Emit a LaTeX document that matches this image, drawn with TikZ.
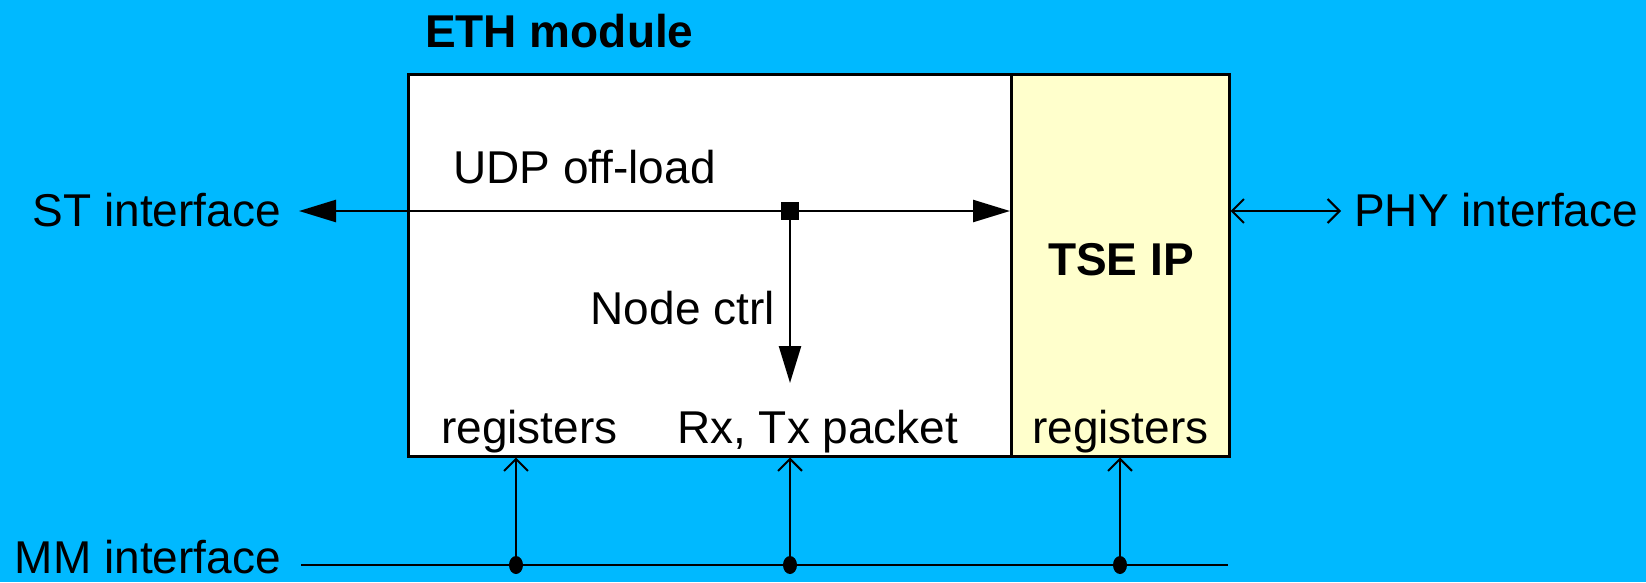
\documentclass[tikz,border=0pt]{standalone}
\usepackage{fontspec}
\setmainfont{Liberation Sans}
\usetikzlibrary{arrows.meta,shapes.geometric}
\definecolor{bgcyan}{RGB}{0,185,255}
\definecolor{tseyellow}{RGB}{255,255,204}
\tikzset{
  lbl/.style={inner sep=0pt, font=\fontsize{46}{55}\selectfont},
  blbl/.style={inner sep=0pt, font=\fontsize{46}{55}\selectfont\bfseries},
  boxx/.style={draw=black, line width=2.5pt, anchor=north west, inner sep=0pt},
  wire/.style={line width=2.5pt},
  bigtip/.style={-{Triangle[length=37pt,width=22pt]}},
  opentip/.style={-{Straight Barb[length=12pt,width=24pt,line width=2pt]}},
  dot/.style={ellipse, fill=black, inner sep=0pt, minimum width=14pt, minimum height=18pt},
}
\begin{document}
\begin{tikzpicture}[x=1pt,y=-1pt]
\fill[bgcyan] (0,0) rectangle (1646,582);
\useasboundingbox (0,0) rectangle (1646,582);
% boxes
\node[boxx, fill=white, minimum width=603pt, minimum height=382pt] (eth) at (407,73) {};
\node[boxx, fill=tseyellow, minimum width=218pt, minimum height=382pt] (tse) at (1010,73) {};
% labels
\node[blbl, anchor=base west] (ethlbl) at (425,47) {ETH module};
\node[blbl, anchor=base] (tselbl) at (1121,275) {TSE IP};
\node[lbl, anchor=base west] (udp) at (453,183) {UDP off-load};
\node[lbl, anchor=base east] (nodectrl) at (775,324) {Node ctrl};
\node[lbl, anchor=base west] (reg1) at (441,443) {registers};
\node[lbl, anchor=base west] (rxtx) at (677,443) {Rx, Tx packet};
\node[lbl, anchor=base west] (reg2) at (1032,443) {registers};
\node[lbl, anchor=base east] (st) at (281,226) {ST interface};
\node[lbl, anchor=base west] (phy) at (1354,226) {PHY interface};
\node[lbl, anchor=base east, text depth=0pt] (mm) at (281,573) {MM interface};
% coordinates
\coordinate (j) at (790,211);
\coordinate (stend) at (299,211);
\coordinate (phyend) at (1341,211);
\coordinate (ncend) at (790,383);
\coordinate (busL) at (301,565);
\coordinate (busR) at (1228,565);
% UDP line
\draw[wire, bigtip] (j) -- (stend);
\draw[wire, bigtip] (j) -- (j -| tse.west);
\draw[wire, bigtip] (j) -- (ncend);
\node[fill=black, minimum size=18pt, inner sep=0pt] (jsq) at (j) {};
% PHY
\draw[line width=2pt, {Straight Barb[length=12pt,width=24pt,line width=2pt]}-{Straight Barb[length=12pt,width=24pt,line width=2pt]}] (tse.east |- j) -- (phyend);
% MM bus
\draw[wire] (busL) -- (busR);
\node[dot] (d1) at (516,565) {};
\node[dot] (d2) at (790,565) {};
\node[dot] (d3) at (1120,565) {};
\draw[line width=2pt, opentip] (d1.center) -- (d1 |- eth.south);
\draw[line width=2pt, opentip] (d2.center) -- (d2 |- eth.south);
\draw[line width=2pt, opentip] (d3.center) -- (d3 |- tse.south);
\end{tikzpicture}
\end{document}
